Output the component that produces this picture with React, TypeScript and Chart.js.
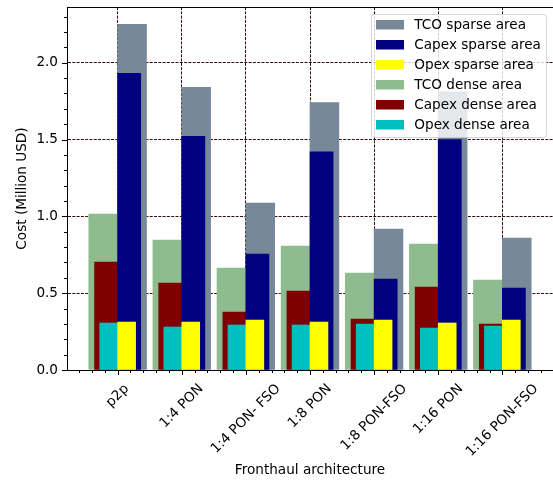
import React, { useEffect, useRef } from 'react';
import { Chart, registerables } from 'chart.js';

Chart.register(...registerables);

const categories = ['p2p', '1:4 PON', '1:4 PON- FSO', '1:8 PON', '1:8 PON-FSO', '1:16 PON', '1:16 PON-FSO'];

const tcoSparse = [2.25, 1.84, 1.086, 1.74, 0.917, 1.81, 0.859];
const capexSparse = [1.93, 1.52, 0.754, 1.42, 0.592, 1.5, 0.533];
const opexSparse = [0.312, 0.312, 0.325, 0.312, 0.325, 0.306, 0.325];
const tcoDense = [1.015, 0.846, 0.663, 0.806, 0.631, 0.82, 0.585];
const capexDense = [0.702, 0.566, 0.377, 0.514, 0.332, 0.54, 0.299];
const opexDense = [0.306, 0.28, 0.293, 0.293, 0.299, 0.273, 0.286];

const yTitle = 'Cost (Million USD)';
const xTitle = 'Fronthaul architecture';

const FONT = '"DejaVu Sans", sans-serif';
const FS = 13.6;
const GRID = '#3a0a0a';

const W_TCO = 0.45;
const W_CAPEX = 0.36;
const W_OPEX = 0.28;

const isMajorY = (v: number) => Math.abs(v * 2 - Math.round(v * 2)) < 1e-6;
const isMajorX = (v: number) => Math.abs(v - Math.round(v)) < 1e-6;

const xTickValues = Array.from({ length: 37 }, (_, k) => Math.round((-0.6 + k * 0.2) * 10) / 10);

export default function App() {
  const ref = useRef<HTMLCanvasElement>(null);

  useEffect(() => {
    if (!ref.current) return;

    const series = [
      { label: 'TCO sparse area', vals: tcoSparse, color: '#778899', w: W_TCO, side: 1, order: 3 },
      { label: 'Capex sparse area', vals: capexSparse, color: '#000080', w: W_CAPEX, side: 1, order: 2 },
      { label: 'Opex sparse area', vals: opexSparse, color: '#ffff00', w: W_OPEX, side: 1, order: 1 },
      { label: 'TCO dense area', vals: tcoDense, color: '#8fbc8f', w: W_TCO, side: -1, order: 3 },
      { label: 'Capex dense area', vals: capexDense, color: '#800000', w: W_CAPEX, side: -1, order: 2 },
      { label: 'Opex dense area', vals: opexDense, color: '#00bfbf', w: W_OPEX, side: -1, order: 1 },
    ];

    const datasets = series.map((s) => ({
      type: 'bar' as const,
      label: s.label,
      data: s.vals.map((v, i) => ({ x: i + (s.side * s.w) / 2, y: v })),
      backgroundColor: s.color,
      borderWidth: 0,
      grouped: false,
      order: s.order,
      barThickness: 20,
    }));

    const deco = {
      id: 'deco',
      afterDraw(chart: any) {
        const { ctx, chartArea: ca, scales } = chart;
        const x = scales.x;
        const y = scales.y;
        ctx.save();
        // top spine
        ctx.strokeStyle = '#000';
        ctx.lineWidth = 1;
        ctx.setLineDash([]);
        ctx.beginPath();
        ctx.moveTo(ca.left, Math.round(ca.top) + 0.5);
        ctx.lineTo(ca.right, Math.round(ca.top) + 0.5);
        ctx.stroke();
        // y tick marks
        y.ticks.forEach((t: any) => {
          const py = Math.round(y.getPixelForValue(t.value)) + 0.5;
          const len = isMajorY(t.value) ? 5 : 3;
          ctx.beginPath();
          ctx.moveTo(ca.left - len, py);
          ctx.lineTo(ca.left, py);
          ctx.stroke();
        });
        // x tick marks
        x.ticks.forEach((t: any) => {
          const px = Math.round(x.getPixelForValue(t.value)) + 0.5;
          if (px < ca.left || px > ca.right) return;
          const len = isMajorX(t.value) ? 5 : 3;
          ctx.beginPath();
          ctx.moveTo(px, ca.bottom);
          ctx.lineTo(px, ca.bottom + len);
          ctx.stroke();
        });
        // x tick labels, rotated 45 and centred on the tick
        ctx.font = `${FS}px ${FONT}`;
        ctx.fillStyle = '#000';
        ctx.textAlign = 'center';
        ctx.textBaseline = 'middle';
        categories.forEach((c, i) => {
          const px = x.getPixelForValue(i);
          const w = ctx.measureText(c).width;
          const h = 16;
          const cy = ca.bottom + 11 + (w + h) / (2 * Math.SQRT2);
          ctx.save();
          ctx.translate(px, cy);
          ctx.rotate(-Math.PI / 4);
          ctx.fillText(c, 0, 0);
          ctx.restore();
        });
        // legend
        const bx = ca.right - 182;
        const by = ca.top + 7;
        const bw = 175;
        const bh = 123;
        ctx.beginPath();
        (ctx as any).roundRect(bx + 0.5, by + 0.5, bw, bh, 3);
        ctx.fillStyle = 'rgba(255,255,255,0.8)';
        ctx.fill();
        ctx.strokeStyle = 'rgba(204,204,204,0.8)';
        ctx.lineWidth = 1;
        ctx.stroke();
        chart.data.datasets.forEach((d: any, k: number) => {
          const cy = by + 10.7 + k * 20;
          ctx.fillStyle = d.backgroundColor;
          ctx.fillRect(bx + 5, cy - 4.7, 28, 9.5);
          ctx.fillStyle = '#000';
          ctx.textAlign = 'left';
          ctx.textBaseline = 'middle';
          ctx.fillText(d.label, bx + 43.3, cy + 0.5);
        });
        ctx.restore();
      },
    };

    const chart = new Chart(ref.current, {
      type: 'bar',
      data: { datasets },
      options: {
        animation: false,
        responsive: false,
        devicePixelRatio: 1,
        layout: { padding: { top: 7, left: 0, right: 0, bottom: 0 } },
        plugins: { legend: { display: false }, tooltip: { enabled: false } },
        scales: {
          x: {
            type: 'linear',
            min: -0.79,
            max: 6.79,
            offset: false,
            z: 1,
            afterBuildTicks: (s: any) => {
              s.ticks = xTickValues.map((v) => ({ value: v }));
            },
            afterFit: (s: any) => {
              s.height = 113;
              s.paddingLeft = 0;
              s.paddingRight = 0;
            },
            ticks: { display: false },
            grid: {
              offset: false,
              color: (c: any) => (c.tick && isMajorX(c.tick.value) ? GRID : 'rgba(0,0,0,0)'),
              lineWidth: 1,
              drawTicks: false,
            },
            border: { color: '#000', width: 1, dash: [3, 1.3] },
            title: {
              display: true,
              text: xTitle,
              color: '#000',
              font: { family: FONT, size: FS },
              padding: { top: 0, bottom: 4 },
            },
          },
          y: {
            type: 'linear',
            min: 0,
            max: 2.3625,
            z: 1,
            afterFit: (s: any) => {
              s.width = 67;
              s.paddingTop = 0;
              s.paddingBottom = 0;
            },
            ticks: {
              stepSize: 0.1,
              autoSkip: false,
              includeBounds: false,
              padding: 9,
              color: '#000',
              font: { family: FONT, size: FS },
              callback: (v: any) => (isMajorY(Number(v)) ? Number(v).toFixed(1) : ''),
            },
            grid: {
              offset: false,
              color: (c: any) => (c.tick && isMajorY(c.tick.value) ? GRID : 'rgba(0,0,0,0)'),
              lineWidth: 1,
              drawTicks: false,
            },
            border: { color: '#000', width: 1, dash: [3, 1.3] },
            title: {
              display: true,
              text: yTitle,
              color: '#000',
              font: { family: FONT, size: FS },
              padding: { top: 14.5, bottom: 0 },
            },
          },
        },
      } as any,
      plugins: [deco],
    });

    const xs: any = chart.scales.x;
    const ppu = xs.getPixelForValue(1) - xs.getPixelForValue(0);
    chart.data.datasets.forEach((d: any, k: number) => {
      d.barThickness = series[k].w * ppu;
    });
    chart.update();

    return () => chart.destroy();
  }, []);

  return (
    <div style={{ position: 'fixed', left: 0, top: 0, width: 553, height: 483, background: '#fff' }}>
      <canvas ref={ref} width={553} height={483} style={{ display: 'block', width: 553, height: 483 }} />
    </div>
  );
}
